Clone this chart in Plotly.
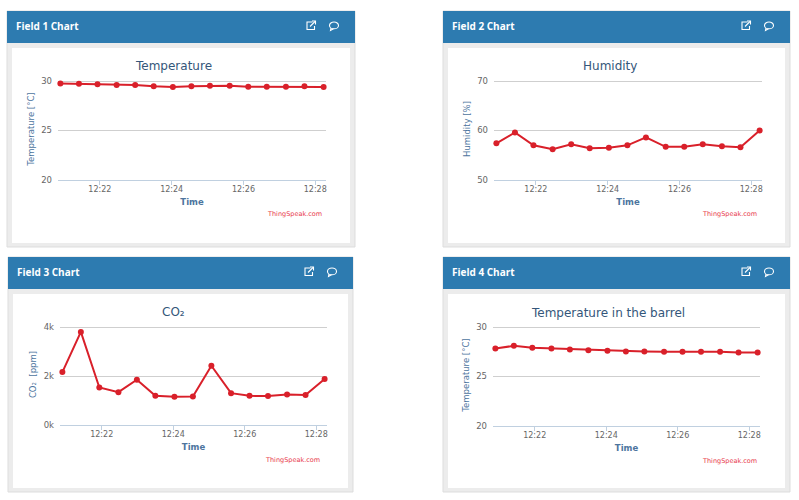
import plotly.graph_objects as go

W, H = 799, 500
DAY = "2021-01-01 "
FONT = "DejaVu Sans"

times = ["12:20:54", "12:21:25", "12:21:56", "12:22:28", "12:22:59", "12:23:30", "12:24:02", "12:24:33",
         "12:25:04", "12:25:37", "12:26:08", "12:26:39", "12:27:11", "12:27:42", "12:28:14"]
temperature = [29.76, 29.73, 29.66, 29.6, 29.6, 29.46, 29.4, 29.46, 29.53, 29.53, 29.43, 29.43, 29.43, 29.46, 29.4]
humidity = [57.4, 59.6, 57.0, 56.2, 57.2, 56.4, 56.5, 57.0, 58.6, 56.7, 56.7, 57.2, 56.8, 56.6, 60.0]
co2 = [2160, 3800, 1530, 1340, 1850, 1190, 1150, 1160, 2420, 1300, 1190, 1180, 1240, 1220, 1880]
barrel = [27.83, 28.1, 27.9, 27.83, 27.73, 27.66, 27.6, 27.53, 27.53, 27.5, 27.5, 27.5, 27.5, 27.42, 27.42]

x_ticks = ["12:22", "12:24", "12:26", "12:28"]
x_start, x_end = "12:20:50", "12:28:18"

panels = [
    dict(name="Field 1 Chart", title="Temperature", ytitle="Temperature [°C]", y=temperature,
         yt=[20, 25, 30], yl=["20", "25", "30"], card=(7, 11, 355, 247), plot=(58, 81, 326, 180), tx=173.5, ty=66, ts=323.5, tsy=214),
    dict(name="Field 2 Chart", title="Humidity", ytitle="Humidity [%]", y=humidity,
         yt=[50, 60, 70], yl=["50", "60", "70"], card=(443, 11, 790, 247), plot=(494, 81, 762, 180), tx=609.5, ty=66, ts=759, tsy=214),
    dict(name="Field 3 Chart", title="CO₂", ytitle="CO₂  [ppm]", y=co2,
         yt=[0, 2000, 4000], yl=["0k", "2k", "4k"], card=(8, 257, 353, 492), plot=(60, 327, 327, 425), tx=173.5, ty=312, ts=322, tsy=460),
    dict(name="Field 4 Chart", title="Temperature in the barrel", ytitle="Temperature [°C]", y=barrel,
         yt=[20, 25, 30], yl=["20", "25", "30"], card=(443, 257, 790, 492), plot=(493, 327, 760, 426), tx=608, ty=312.5, ts=759, tsy=461),
]

def px(x):
    return x / W

def py(y):
    return 1 - y / H

def rect(x0, y0, x1, y1, fill, line=None):
    return dict(type="rect", xref="paper", yref="paper", x0=px(x0), x1=px(x1), y0=py(y1), y1=py(y0),
                fillcolor=fill, line=dict(color=line or fill, width=1 if line else 0), layer="below")

def stroke_path(points, close=False, color="white"):
    d = "M " + " L ".join(f"{px(a):.5f},{py(b):.5f}" for a, b in points) + (" Z" if close else "")
    return dict(type="path", xref="paper", yref="paper", path=d, line=dict(color=color, width=1.1), layer="above")

fig = go.Figure()
shapes, annotations = [], []
layout_axes = {}
SPARE = 3  # pixels above the top tick: plotly drops gridlines within 1px of the axis ends

for i, p in enumerate(panels):
    suffix = "" if i == 0 else str(i + 1)
    cx0, cy0, cx1, cy1 = p["card"]
    x0, y0, x1, y1 = p["plot"]

    shapes += [
        rect(cx0, cy0, cx1, cy1, "#ececec", "#dddddd"),
        rect(cx0, cy0, cx1, cy0 + 32, "#2d7bb0"),
        rect(cx0 + 5, cy0 + 37, cx1 - 5, cy1 - 4, "#ffffff"),
    ]
    ix = cx1 - 44.5
    iy = cy0 + 14.5
    shapes += [
        stroke_path([(ix + 2, iy - 3.5), (ix - 3.5, iy - 3.5), (ix - 3.5, iy + 4), (ix + 4, iy + 4), (ix + 4, iy + 0.5)]),
        stroke_path([(ix - 0.5, iy + 1), (ix + 4.5, iy - 4)]),
        stroke_path([(ix + 1.5, iy - 4.5), (ix + 5, iy - 4.5), (ix + 5, iy - 1)]),
    ]
    bx = cx1 - 21
    shapes.append(dict(type="circle", xref="paper", yref="paper", x0=px(bx - 4.5), x1=px(bx + 4.5),
                       y0=py(iy + 3.3), y1=py(iy - 3.5), line=dict(color="white", width=1.1), layer="above"))
    shapes.append(stroke_path([(bx - 3, iy + 2.5), (bx - 3.5, iy + 5), (bx - 0.5, iy + 3.3)]))

    annotations += [
        dict(text=f"<b>{p['name']}</b>", x=px(cx0 + 6.5), y=py(cy0 + 14.5), xref="paper", yref="paper", xanchor="left",
             yanchor="middle", showarrow=False, font=dict(family="Open Sans", size=10, color="#ffffff")),
        dict(text=p["title"], x=px(p["tx"]), y=py(p["ty"]), xref="paper", yref="paper", xanchor="center",
             yanchor="middle", showarrow=False, font=dict(family=FONT, size=12, color="#34567a")),
        dict(text="ThingSpeak.com", x=px(p["ts"]), y=py(p["tsy"]), xref="paper", yref="paper", xanchor="right",
             yanchor="middle", showarrow=False, font=dict(family=FONT, size=6.5, color="#e8394a")),
    ]

    fig.add_trace(go.Scatter(
        x=[DAY + t for t in times], y=p["y"], mode="lines+markers", xaxis="x" + suffix, yaxis="y" + suffix,
        line=dict(color="#d9202a", width=2), marker=dict(color="#d9202a", size=6), showlegend=False, cliponaxis=False,
    ))

    layout_axes["xaxis" + suffix] = dict(
        domain=[px(x0), px(x1)], anchor="y" + suffix, range=[DAY + x_start, DAY + x_end], automargin=False,
        tickvals=[DAY + t + ":00" for t in x_ticks], ticktext=x_ticks,
        showgrid=False, zeroline=False, showline=True, linecolor="#c0d0e0", linewidth=1,
        ticks="outside", ticklen=4, tickcolor="#c0d0e0", tickwidth=1, ticklabelstandoff=-3,
        tickfont=dict(family=FONT, size=8, color="#666666"),
        title=dict(text="<b>Time</b>", standoff=6, font=dict(family=FONT, size=8.5, color="#4d759e")),
    )
    span = p["yt"][-1] - p["yt"][0]
    layout_axes["yaxis" + suffix] = dict(
        domain=[py(y1), py(y0 - SPARE)], anchor="x" + suffix,
        range=[p["yt"][0], p["yt"][-1] + SPARE * span / (y1 - y0)], automargin=False,
        tickvals=p["yt"], ticktext=p["yl"], showgrid=True, gridcolor="#cfcfcf", gridwidth=1,
        zeroline=False, showline=False, ticks="", ticklabelstandoff=5,
        tickfont=dict(family=FONT, size=8.5, color="#666666"),
        title=dict(text=p["ytitle"], standoff=5, font=dict(family=FONT, size=8.5, color="#4d759e")),
    )

fig.update_layout(
    width=W, height=H, margin=dict(l=0, r=0, t=0, b=0), autosize=False,
    paper_bgcolor="#ffffff", plot_bgcolor="rgba(0,0,0,0)", showlegend=False,
    shapes=shapes, annotations=annotations, **layout_axes,
)

fig.write_html("out.html", config={"displayModeBar": False},
               post_script="document.body.style.margin='0';")
